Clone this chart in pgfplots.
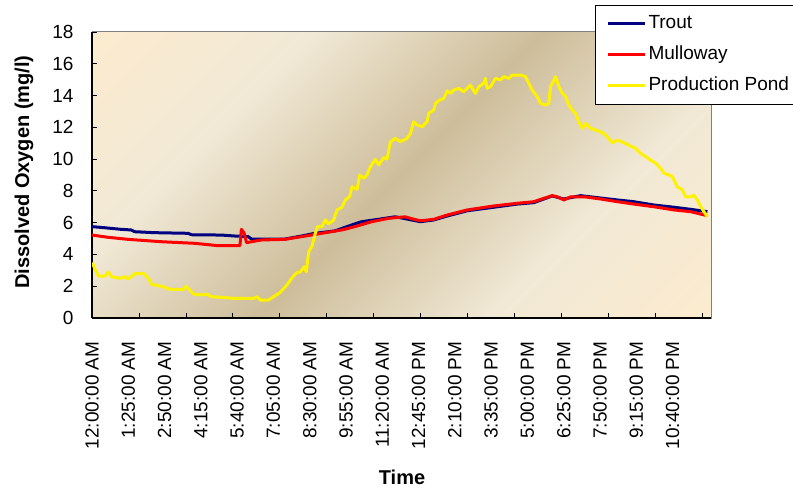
\documentclass[border=0pt]{standalone}
\usepackage{pgfplots}
\usepackage{pgfplotstable}
\usepackage{fontspec}
\setmainfont{Liberation Sans}
\pgfplotsset{compat=1.18}
\definecolor{cpeach}{HTML}{FCEBCF}
\definecolor{ccream}{HTML}{F1E9D6}
\definecolor{ctan}{HTML}{CDBD9A}
\definecolor{trout}{HTML}{000080}
\pgfdeclareverticalshading{bgshade}{100bp}{color(0bp)=(cpeach); color(15bp)=(cpeach); color(32bp)=(ccream); color(50bp)=(ctan); color(68bp)=(ccream); color(85bp)=(cpeach); color(100bp)=(cpeach)}

\pgfplotstableread{
i v
0 5.75
4.4 5.70
13.7 5.58
18.4 5.54
20.0 5.43
29.4 5.37
45.0 5.33
46.6 5.24
60.6 5.22
66.9 5.16
73.2 5.12
74.7 4.97
90.4 4.97
98.2 5.16
104.5 5.33
113.8 5.48
121.6 5.85
126.3 6.06
134.1 6.21
142.0 6.37
144.5 6.31
153.8 6.06
160.1 6.17
166.4 6.42
175.8 6.75
188.2 6.97
199.2 7.17
207.0 7.26
215.6 7.68
221.1 7.49
228.9 7.70
238.3 7.55
246.1 7.43
253.9 7.32
263.3 7.11
272.7 6.97
280.5 6.84
288.3 6.69
}\trouttab

\pgfplotstableread{
i v
0 5.22
7.5 5.08
16.9 4.95
32.5 4.80
48.2 4.70
59.1 4.55
69.3 4.55
70.0 5.58
71.3 5.33
72.4 4.74
74.7 4.80
79.4 4.91
90.4 4.95
98.2 5.12
107.6 5.33
117.0 5.54
123.2 5.75
131.0 6.06
138.8 6.27
146.7 6.37
150.9 6.21
154.0 6.12
160.1 6.21
166.4 6.48
175.8 6.80
188.2 7.05
199.2 7.22
207.0 7.32
211.7 7.53
215.6 7.70
218.0 7.63
221.1 7.43
224.3 7.63
230.5 7.63
238.3 7.49
246.1 7.32
253.9 7.17
263.3 7.00
272.7 6.80
280.5 6.69
288.3 6.44
}\mullowaytab

\pgfplotstableread{
i v
0 3.48
3.0 2.64
6.1 2.64
7.6 2.90
9.2 2.60
13.1 2.50
15.5 2.60
16.9 2.45
20.2 2.80
24.1 2.80
26.4 2.50
28.0 2.12
33.4 1.97
36.6 1.80
42.8 1.80
44.1 2.00
47.5 1.51
51.5 1.45
53.8 1.50
56.1 1.34
63.2 1.28
66.3 1.23
75.7 1.23
77.3 1.34
78.8 1.13
82.7 1.13
85.0 1.34
88.2 1.61
91.3 2.08
94.1 2.60
96.0 2.86
97.6 2.90
99.4 3.23
100.4 2.90
101.5 4.17
103.0 4.49
104.6 5.33
105.7 5.75
107.7 5.75
109.3 6.17
110.8 5.92
113.2 6.17
114.8 6.80
117.1 6.97
118.7 7.43
120.7 7.63
121.8 8.26
124.2 8.10
125.4 9.00
127.3 8.79
128.8 9.00
130.4 9.52
132.7 9.99
134.3 9.63
136.6 10.09
138.2 10.00
139.8 11.10
142.1 11.30
144.5 11.10
147.6 11.31
149.2 11.62
150.7 12.35
152.3 12.15
154.6 12.04
157.0 12.35
157.7 12.88
160.1 13.09
160.9 13.51
162.9 13.72
164.8 13.82
166.4 14.30
167.9 14.14
169.5 14.35
171.8 14.46
174.2 14.24
175.8 14.46
177.3 14.66
179.6 14.14
181.2 14.56
183.5 14.77
184.3 15.08
185.1 14.46
186.7 14.56
189.0 15.08
191.4 14.98
192.9 15.19
195.3 15.08
196.9 15.29
200.8 15.29
203.1 15.19
206.2 14.35
208.6 13.93
210.1 13.51
212.5 13.40
214.0 13.51
214.8 14.56
217.2 15.19
218.7 14.56
220.3 14.14
221.9 13.93
223.4 13.40
225.0 13.09
226.5 12.88
228.1 12.35
229.7 11.94
231.2 12.25
233.6 11.94
235.9 11.83
238.3 11.72
240.6 11.52
243.8 11.03
246.1 11.20
249.2 11.03
252.3 10.82
254.7 10.68
257.0 10.37
259.4 10.15
261.7 9.94
264.1 9.74
266.4 9.42
268.0 9.11
270.3 9.00
271.9 8.90
274.2 8.26
276.6 8.06
278.1 7.63
280.5 7.63
282.0 7.74
283.6 7.43
285.2 7.00
286.7 6.69
288.3 6.37
}\pondtab

\begin{document}
\begin{tikzpicture}
\begin{axis}[
  name=ax, at={(92bp,171bp)}, anchor=south west,
  scale only axis, width=619bp, height=286bp,
  xmin=0, xmax=290, ymin=0, ymax=18,
  axis background/.style={shade, shading=bgshade, shading angle=45, draw=gray, line width=1bp},
  axis x line*=bottom, axis y line*=left,
  axis line style={-, black, line width=1.2bp},
  tick align=inside,
  major tick length=5bp,
  tick style={black, line width=0.8bp},
  xtick={0,22,...,286},
  xticklabels={},
  extra x ticks={0,17,...,272},
  extra x tick labels={12:00:00 AM,1:25:00 AM,2:50:00 AM,4:15:00 AM,5:40:00 AM,7:05:00 AM,8:30:00 AM,9:55:00 AM,11:20:00 AM,12:45:00 PM,2:10:00 PM,3:35:00 PM,5:00:00 PM,6:25:00 PM,7:50:00 PM,9:15:00 PM,10:40:00 PM},
  extra x tick style={major tick length=0pt},
  xticklabel style={rotate=90, anchor=east, font=\fontsize{19bp}{22bp}\selectfont},
  xticklabel shift=20bp,
  ytick={0,2,...,18},
  yticklabel style={font=\fontsize{19bp}{22bp}\selectfont},
  yticklabel shift=15bp,
  /pgf/number format/assume math mode=true,
  xlabel={\bfseries Time},
  ylabel={\bfseries Dissolved Oxygen (mg/l)},
  every axis x label/.style={at={(axis description cs:0.5008,-0.556)}, anchor=center, font=\fontsize{20bp}{24bp}\selectfont},
  every axis y label/.style={at={(axis description cs:-0.1100,0.51)}, anchor=center, rotate=90, font=\fontsize{20bp}{24bp}\selectfont},
  legend style={at={(axis description cs:0.8126,1.0944)}, anchor=north west, draw=black, line width=1bp, fill=white,
    font=\fontsize{19bp}{22bp}\selectfont, inner xsep=11bp, inner ysep=7.5bp, row sep=9bp,
    nodes={inner sep=2bp, text height=14bp, text depth=4bp},
    /tikz/every odd column/.append style={xshift=2bp}},
  legend cell align=left,
  legend image code/.code={\draw[#1, line width=3bp] (0bp,0bp) -- (37bp,0bp);},
  line join=round,
]
\addplot[trout, line width=3bp] table[x=i, y=v] {\trouttab};
\addlegendentry{Trout}
\addplot[red, line width=3bp] table[x=i, y=v] {\mullowaytab};
\addlegendentry{Mulloway}
\addplot[yellow, line width=3bp] table[x=i, y=v] {\pondtab};
\addlegendentry{Production Pond}
\end{axis}
\pgfresetboundingbox
\path (0,0) rectangle (793bp,489bp);
\end{tikzpicture}
\end{document}
